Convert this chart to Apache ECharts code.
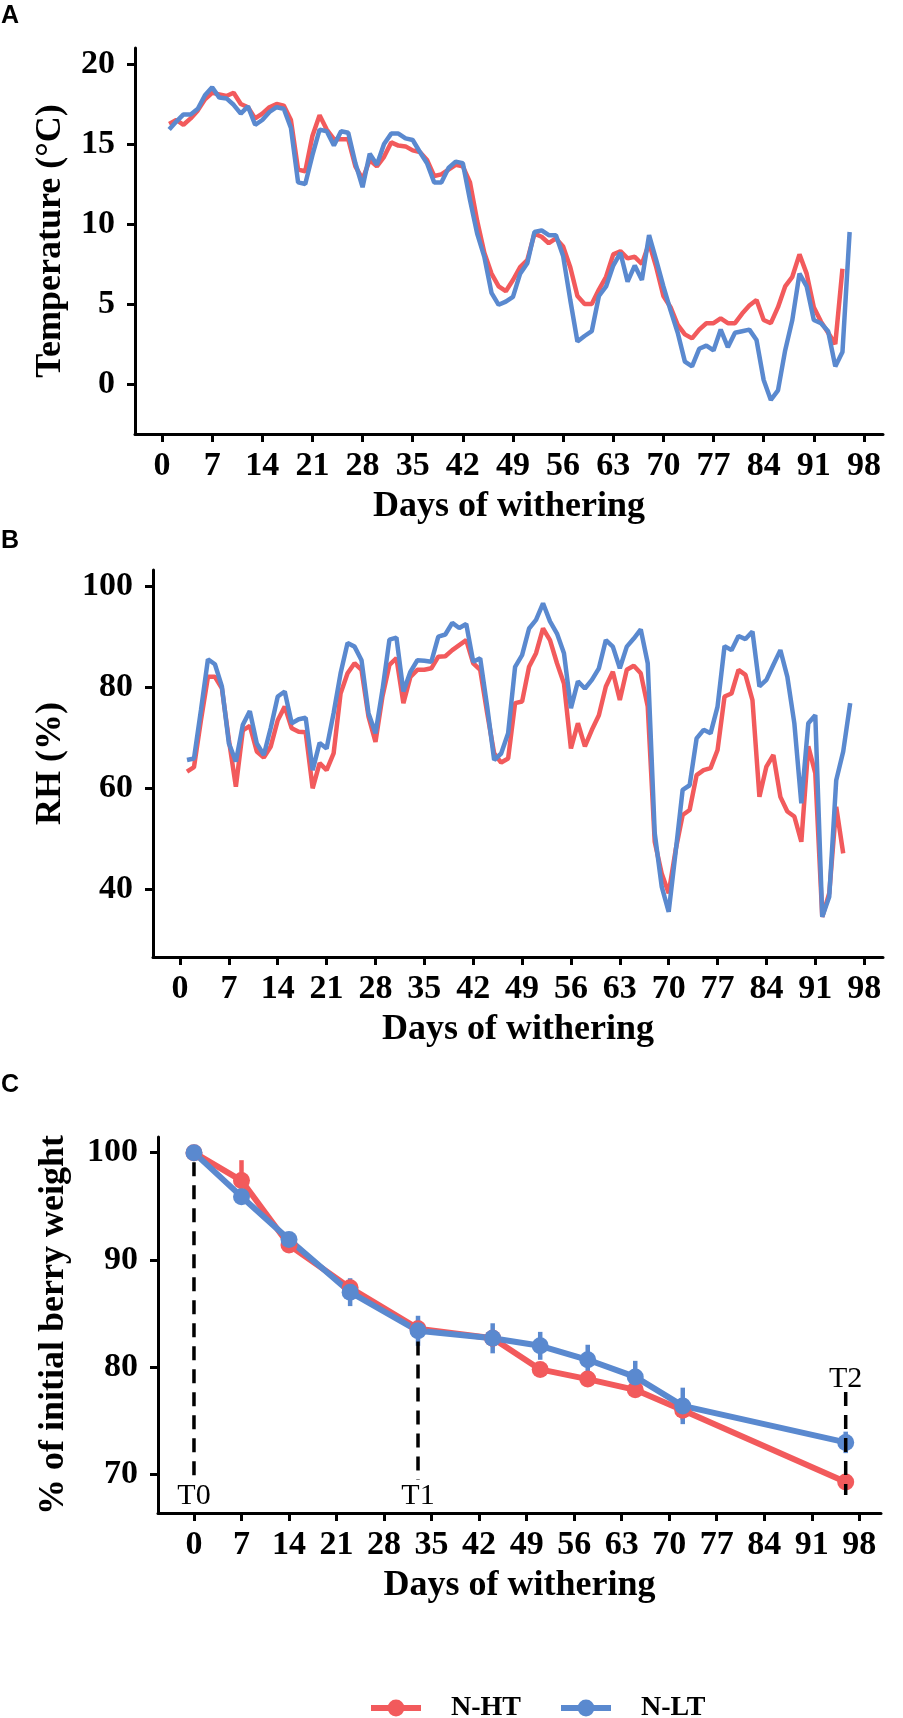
<!DOCTYPE html>
<html>
<head>
<meta charset="utf-8">
<script src="https://cdn.jsdelivr.net/npm/echarts@6/dist/echarts.min.js"></script>
<style>
  html, body { margin: 0; padding: 0; background: #fff; }
  #chart { width: 903px; height: 1718px; }
</style>
</head>
<body>
<div id="chart"></div>
<script>
// daily records (panels A and B)
var dailyDays = [1, 2, 3, 4, 5, 6, 7, 8, 9, 10, 11, 12, 13, 14, 15, 16, 17, 18, 19, 20,
  21, 22, 23, 24, 25, 26, 27, 28, 29, 30, 31, 32, 33, 34, 35, 36, 37, 38, 39, 40,
  41, 42, 43, 44, 45, 46, 47, 48, 49, 50, 51, 52, 53, 54, 55, 56, 57, 58, 59, 60,
  61, 62, 63, 64, 65, 66, 67, 68, 69, 70, 71, 72, 73, 74, 75, 76, 77, 78, 79, 80,
  81, 82, 83, 84, 85, 86, 87, 88, 89, 90, 91, 92, 93, 94, 95, 96];

var tempHT = [16.25, 16.5, 16.2, 16.6, 17.1, 17.8, 18.2, 18.1, 18.0, 18.2,
  17.5, 17.3, 16.6, 16.9, 17.3, 17.5, 17.4, 16.5, 13.4, 13.3,
  15.5, 16.8, 15.9, 15.3, 15.3, 15.3, 13.6, 12.8, 14.0, 13.6,
  14.2, 15.1, 14.9, 14.85, 14.6, 14.5, 14.0, 13.0, 13.1, 13.4,
  13.7, 13.6, 12.6, 10.2, 8.2, 6.9, 6.1, 5.8, 6.5, 7.3,
  7.75, 9.4, 9.2, 8.8, 9.1, 8.6, 7.3, 5.5, 5.0, 5.0,
  5.9, 6.7, 8.1, 8.3, 7.85, 7.95, 7.5, 8.8, 7.3, 5.5,
  4.8, 3.7, 3.1, 2.85, 3.4, 3.8, 3.8, 4.1, 3.8, 3.8,
  4.4, 4.9, 5.25, 4.0, 3.8, 4.8, 6.1, 6.7, 8.1, 6.9,
  4.8, 3.9, 3.2, 2.5, 7.2];

var tempLT = [15.9, 16.4, 16.85, 16.85, 17.2, 18.05, 18.55, 17.9, 17.85, 17.45,
  16.9, 17.35, 16.2, 16.5, 17.0, 17.3, 17.2, 16.0, 12.6, 12.5,
  14.3, 15.9, 15.8, 14.9, 15.8, 15.7, 13.8, 12.3, 14.4, 13.7,
  15.0, 15.65, 15.65, 15.35, 15.25, 14.5, 13.8, 12.6, 12.6, 13.5,
  13.9, 13.8, 11.5, 9.4, 7.95, 5.7, 4.95, 5.15, 5.45, 6.9,
  7.55, 9.5, 9.6, 9.3, 9.3, 8.0, 5.25, 2.65, 3.0, 3.3,
  5.5, 6.1, 7.4, 8.2, 6.4, 7.4, 6.5, 9.3, 7.75, 6.1,
  4.6, 3.2, 1.4, 1.1, 2.2, 2.4, 2.1, 3.4, 2.3, 3.2,
  3.3, 3.4, 2.75, 0.25, -1.0, -0.4, 2.1, 4.0, 6.9, 6.1,
  4.0, 3.8, 3.3, 1.1, 2.0, 9.5];

var rhHT = [63.3, 64.2, 73.5, 82.1, 82.1, 79.8, 69.6, 60.3, 71.5, 72.4,
  67.3, 66.1, 68.3, 73.5, 76.2, 71.9, 71.2, 71.1, 60.0, 65.0,
  63.6, 66.9, 78.8, 82.8, 84.8, 83.5, 74.2, 69.2, 78.2, 84.5,
  85.8, 76.9, 82.1, 83.5, 83.5, 83.8, 86.1, 86.2, 87.4, 88.4,
  89.4, 84.8, 83.5, 74.9, 66.9, 65.1, 65.9, 76.9, 77.2, 84.1,
  86.8, 91.7, 89.4, 84.8, 80.8, 67.9, 72.9, 68.3, 71.6, 74.5,
  80.2, 83.1, 77.5, 83.5, 84.3, 82.8, 76.2, 49.4, 43.1, 39.2,
  47.8, 54.7, 55.7, 62.6, 63.6, 64.0, 67.6, 78.2, 78.8, 83.5,
  82.5, 77.5, 58.3, 64.3, 66.6, 58.3, 55.4, 54.4, 49.4, 68.3,
  63.0, 34.5, 39.2, 56.3, 47.1];

var rhLT = [65.6, 65.9, 75.5, 85.6, 84.6, 80.2, 68.9, 65.3, 72.6, 75.3,
  68.9, 66.6, 72.0, 78.2, 79.2, 72.9, 73.7, 74.0, 63.6, 69.0,
  67.9, 74.9, 82.8, 88.8, 88.1, 85.4, 74.9, 70.9, 79.5, 89.5,
  89.9, 79.2, 83.1, 85.4, 85.3, 85.1, 90.1, 90.5, 92.8, 91.8,
  92.6, 85.1, 85.8, 76.2, 65.6, 66.9, 70.9, 84.1, 86.4, 91.7,
  93.4, 96.7, 93.1, 90.7, 86.8, 75.9, 81.2, 79.8, 81.5, 83.8,
  89.4, 88.1, 83.8, 88.1, 89.7, 91.5, 84.8, 51.1, 40.5, 35.5,
  47.4, 59.7, 60.6, 69.9, 71.6, 70.9, 76.2, 88.2, 87.4, 90.2,
  89.6, 91.1, 80.2, 81.5, 84.5, 87.4, 82.1, 72.9, 57.0, 72.9,
  74.5, 34.5, 38.5, 61.6, 67.3, 76.9];

// berry weight (panel C)
var weightDays = [0, 7, 14, 23, 33, 44, 51, 58, 65, 72, 96];
var weightHT = [100, 97.4, 91.4, 87.4, 83.6, 82.7, 79.8, 78.9, 77.9, 76.0, 69.3];
var weightHTErr = [0, 1.9, 0.5, 0.6, 0.8, 0.8, 0.5, 0.5, 0.5, 0.9, 0.6];
var weightLT = [100, 95.9, 91.9, 87.0, 83.4, 82.7, 82.0, 80.7, 79.1, 76.4, 73.0];
var weightLTErr = [0, 0.5, 0.7, 1.3, 1.4, 1.4, 1.3, 1.4, 1.5, 1.7, 1.0];

var phaseNames = ['T0', 'T1', 'T2'];
var phaseDays = [0, 33, 96];
var phaseTop = [99.1, 82.4, 77.7];
var phaseBottom = [69.5, 69.5, 68.1];
var phaseLabelY = [68.0, 68.0, 78.9];

var dayTicks = [0, 7, 14, 21, 28, 35, 42, 49, 56, 63, 70, 77, 84, 91, 98];
var tempTicks = [0, 5, 10, 15, 20];
var rhTicks = [40, 60, 80, 100];
var weightTicks = [70, 80, 90, 100];

var RED = '#F25A5C';
var BLUE = '#5A89CF';
var SERIF = '"Liberation Serif", "Times New Roman", serif';

function pairs(xs, ys) {
  return ys.map(function (y, i) { return [xs[i], y]; });
}

function axisBase(ticks, name, nameGap, labelMargin) {
  return {
    type: 'value',
    name: name,
    nameLocation: 'middle',
    nameGap: nameGap,
    nameTextStyle: { fontFamily: SERIF, fontWeight: 'bold', fontSize: 36, color: '#000' },
    axisLine: { show: true, onZero: false, lineStyle: { color: '#000', width: 3 } },
    axisTick: { show: true, customValues: ticks, length: 8, lineStyle: { color: '#000', width: 3 } },
    axisLabel: { customValues: ticks, margin: labelMargin, fontFamily: SERIF, fontWeight: 'bold', fontSize: 34, color: '#000' },
    splitLine: { show: false }
  };
}

function xAxisFor(gridIndex, min, max) {
  var a = axisBase(dayTicks, 'Days of withering', 55, 15);
  a.gridIndex = gridIndex; a.min = min; a.max = max;
  return a;
}

function yAxisFor(gridIndex, ticks, name, gap, min, max) {
  var a = axisBase(ticks, name, gap, 20);
  a.gridIndex = gridIndex; a.min = min; a.max = max;
  return a;
}

function dailyLine(name, axis, values, color) {
  return {
    name: name, type: 'line', xAxisIndex: axis, yAxisIndex: axis,
    data: pairs(dailyDays, values),
    symbol: 'none', showSymbol: false,
    lineStyle: { color: color, width: 4.5 }, itemStyle: { color: color },
    z: 2
  };
}

function weightLine(name, values, color) {
  return {
    name: name, type: 'line', xAxisIndex: 2, yAxisIndex: 2,
    data: pairs(weightDays, values),
    symbol: 'circle', symbolSize: 17,
    lineStyle: { color: color, width: 6 }, itemStyle: { color: color },
    z: 3
  };
}

function errorBars(values, errs, color) {
  return {
    type: 'custom', xAxisIndex: 2, yAxisIndex: 2, silent: true, z: 2,
    data: weightDays.map(function (d, i) { return [d, values[i] - errs[i], values[i] + errs[i]]; }),
    encode: { x: 0, y: [1, 2] },
    renderItem: function (params, api) {
      var lo = api.coord([api.value(0), api.value(1)]);
      var hi = api.coord([api.value(0), api.value(2)]);
      return {
        type: 'line',
        shape: { x1: lo[0], y1: lo[1], x2: hi[0], y2: hi[1] },
        style: { stroke: color, lineWidth: 4.5 }
      };
    }
  };
}

var chart = echarts.init(document.getElementById('chart'));

chart.setOption({
  animation: false,
  backgroundColor: '#fff',
  grid: [
    { left: 135, top: 48, width: 748, height: 386 },
    { left: 153, top: 570, width: 730, height: 387 },
    { left: 158, top: 1137, width: 723, height: 376 }
  ],
  xAxis: [
    xAxisFor(0, -3.77, 100.66),
    xAxisFor(1, -3.87, 100.7),
    xAxisFor(2, -5.3, 101.2)
  ],
  yAxis: [
    yAxisFor(0, tempTicks, 'Temperature (°C)', 66, -3.125, 21),
    yAxisFor(1, rhTicks, 'RH (%)', 84, 26.53, 103.3),
    yAxisFor(2, weightTicks, '% of initial berry weight', 86, 66.42, 101.46)
  ],
  legend: {
    data: ['N-HT', 'N-LT'],
    left: 363, top: 1689,
    itemWidth: 50, itemHeight: 21, itemGap: 37,
    lineStyle: { width: 6 },
    textStyle: { fontFamily: SERIF, fontWeight: 'bold', fontSize: 28, color: '#000', padding: [0, 0, 0, 25] }
  },
  graphic: [
    { type: 'text', x: 1, y: 16, style: { text: 'A', font: 'bold 25px "Liberation Sans", Arial, sans-serif', fill: '#000', verticalAlign: 'middle' } },
    { type: 'text', x: 1, y: 541, style: { text: 'B', font: 'bold 25px "Liberation Sans", Arial, sans-serif', fill: '#000', verticalAlign: 'middle' } },
    { type: 'text', x: 1, y: 1085, style: { text: 'C', font: 'bold 25px "Liberation Sans", Arial, sans-serif', fill: '#000', verticalAlign: 'middle' } }
  ],
  series: [
    weightLine('N-HT', weightHT, RED),
    weightLine('N-LT', weightLT, BLUE),
    errorBars(weightHT, weightHTErr, RED),
    errorBars(weightLT, weightLTErr, BLUE),
    {
      type: 'custom', xAxisIndex: 2, yAxisIndex: 2, silent: true, z: 5,
      data: phaseDays.map(function (d, i) { return [d, phaseTop[i], phaseBottom[i], phaseLabelY[i]]; }),
      encode: { x: 0, y: [1, 2] },
      renderItem: function (params, api) {
        var top = api.coord([api.value(0), api.value(1)]);
        var bottom = api.coord([api.value(0), api.value(2)]);
        var lab = api.coord([api.value(0), api.value(3)]);
        return {
          type: 'group',
          children: [
            {
              type: 'line',
              shape: { x1: top[0], y1: top[1], x2: bottom[0], y2: bottom[1] },
              style: { stroke: '#000', lineWidth: 3.5, lineDash: [14, 9] }
            },
            {
              type: 'text',
              style: {
                text: phaseNames[params.dataIndex], x: lab[0], y: lab[1],
                align: 'center', verticalAlign: 'middle',
                font: '30px ' + SERIF, fill: '#000'
              }
            }
          ]
        };
      }
    },
    dailyLine('N-HT', 0, tempHT, RED),
    dailyLine('N-LT', 0, tempLT, BLUE),
    dailyLine('N-HT', 1, rhHT, RED),
    dailyLine('N-LT', 1, rhLT, BLUE)
  ]
});

window.onresize = function () {
  chart.resize();
};
</script>
</body>
</html>
